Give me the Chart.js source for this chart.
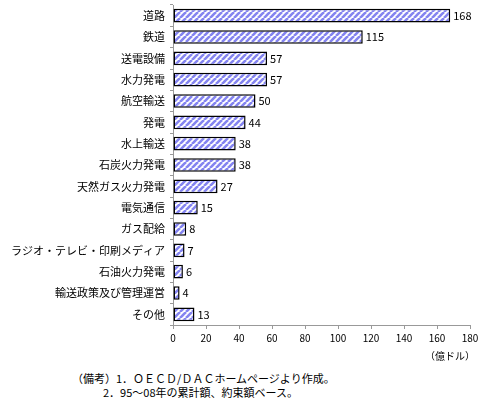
<!DOCTYPE html>
<html><head><meta charset="utf-8">
<script src="https://cdn.jsdelivr.net/npm/chart.js@4"></script>
<style>
html,body{margin:0;padding:0;background:#fff;width:487px;height:408px;overflow:hidden;font-family:"Noto Sans CJK JP",sans-serif;}
#wrap{position:absolute;left:0;top:0;width:487px;height:350px;}
.t{position:absolute;font-size:11px;color:#000;white-space:nowrap;line-height:13px;}
</style></head><body>
<div id="wrap"><canvas id="c" width="487" height="350"></canvas></div>
<div class="t" style="right:12px;top:349px;font-size:10px;">（億ドル）</div>
<div class="t" style="left:72px;top:372px;">（備考）1．ＯＥＣＤ/ＤＡＣホームページより作成。</div>
<div class="t" style="left:103px;top:386px;">2．95～08年の累計額、約束額ベース。</div>
<script>
const categories = ["道路","鉄道","送電設備","水力発電","航空輸送","発電","水上輸送","石炭火力発電","天然ガス火力発電","電気通信","ガス配給","ラジオ・テレビ・印刷メディア","石油火力発電","輸送政策及び管理運営","その他"];
const values = [168,115,57,57,50,44,38,38,27,15,8,7,6,4,13];
const xTicks = [0,20,40,60,80,100,120,140,160,180];

function makePattern(){
  const p=document.createElement('canvas'); p.width=6; p.height=6;
  const g=p.getContext('2d');
  g.fillStyle='#fff'; g.fillRect(0,0,6,6);
  g.strokeStyle='#8484f0'; g.lineWidth=2.6;
  for(const o of [-6,0,6]){ g.beginPath(); g.moveTo(o,6); g.lineTo(o+6,0); g.stroke(); }
  return document.getElementById('c').getContext('2d').createPattern(p,'repeat');
}

const labelPlugin={id:'vals',afterDatasetsDraw(chart){
  const ctx=chart.ctx; const meta=chart.getDatasetMeta(0);
  ctx.save(); ctx.font='11px "Noto Sans CJK JP"'; ctx.fillStyle='#000';
  ctx.textAlign='left'; ctx.textBaseline='middle';
  meta.data.forEach((b,i)=>{ ctx.fillText(String(values[i]), b.x+3, b.y); });
  ctx.restore();
}};

new Chart(document.getElementById('c'),{
  type:'bar',
  data:{labels:categories,datasets:[{data:values,backgroundColor:makePattern(),borderColor:'#000',borderWidth:1.5,borderSkipped:false,barPercentage:0.64,categoryPercentage:1}]},
  options:{
    indexAxis:'y',responsive:false,animation:false,
    layout:{padding:{left:0,right:17,top:5,bottom:0}},
    plugins:{legend:{display:false},tooltip:{enabled:false}},
    scales:{
      x:{min:0,max:180,afterBuildTicks(s){s.ticks=xTicks.map(v=>({value:v}));},
        afterFit(s){s.height=25;},
        grid:{drawOnChartArea:false,drawTicks:true,tickLength:4,color:'#999'},
        border:{color:'#999'},
        ticks:{font:{size:10,family:'"Noto Sans CJK JP"'},color:'#000',padding:3,maxRotation:0}},
      y:{afterFit(s){s.width=173;s.paddingTop=0;s.paddingBottom=0;},
        grid:{drawOnChartArea:false,drawTicks:true,tickLength:3,color:'#999',offset:true},
        border:{color:'#999'},
        ticks:{font:{size:11,family:'"Noto Sans CJK JP"'},color:'#000',padding:5,autoSkip:false}}
    }
  },
  plugins:[labelPlugin]
});
</script></body></html>
